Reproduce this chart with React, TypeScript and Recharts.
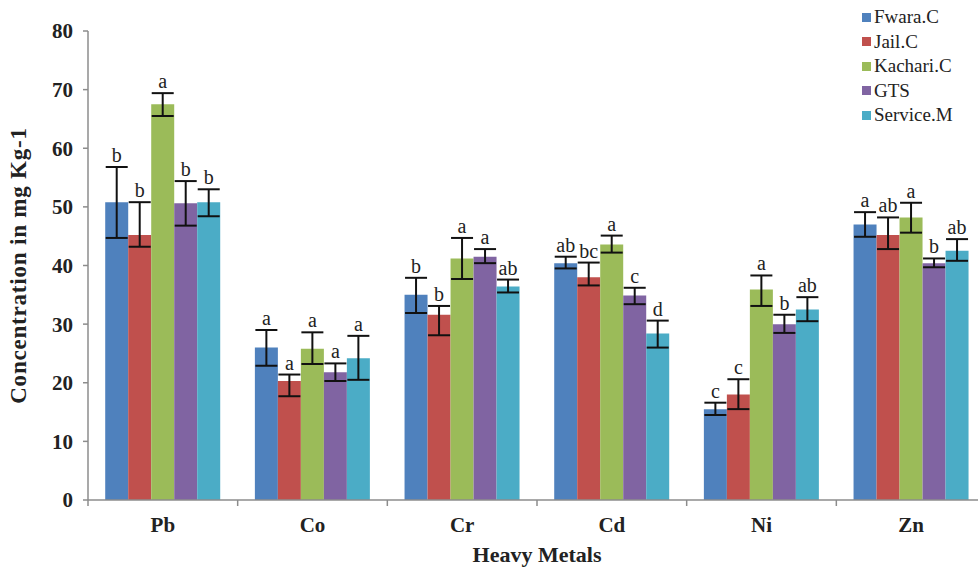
import { BarChart, Bar, XAxis, YAxis, ErrorBar, LabelList, Label } from "recharts";

// heavy metal categories
const metals = ["Pb", "Co", "Cr", "Cd", "Ni", "Zn"];

// mean concentrations (mg/kg) per site
const fwara = [50.8, 26.0, 35.0, 40.4, 15.5, 47.0];
const jail = [45.2, 20.3, 31.6, 38.0, 18.0, 45.2];
const kachari = [67.5, 25.8, 41.2, 43.6, 35.9, 48.2];
const gts = [50.6, 21.8, 41.5, 34.9, 30.0, 40.4];
const service = [50.8, 24.2, 36.4, 28.4, 32.5, 42.5];

// error bars as [down, up]
const fwaraErr = [[6.1, 6.0], [3.1, 3.0], [3.1, 2.9], [0.9, 1.1], [1.0, 1.1], [2.1, 2.1]];
const jailErr = [[2.0, 5.6], [2.6, 1.1], [3.5, 1.5], [1.4, 2.5], [2.5, 2.6], [2.4, 3.0]];
const kachariErr = [[2.0, 1.9], [2.6, 2.8], [3.5, 3.5], [1.4, 1.5], [2.8, 2.4], [2.6, 2.5]];
const gtsErr = [[3.8, 3.8], [1.5, 1.5], [1.1, 1.3], [1.5, 1.3], [1.5, 1.6], [0.7, 0.8]];
const serviceErr = [[2.4, 2.2], [3.7, 3.8], [1.0, 1.2], [2.4, 2.2], [2.0, 2.1], [1.7, 2.0]];

// significance letters
const fwaraSig = ["b", "a", "b", "ab", "c", "a"];
const jailSig = ["b", "a", "b", "bc", "c", "ab"];
const kachariSig = ["a", "a", "a", "a", "a", "a"];
const gtsSig = ["b", "a", "a", "c", "b", "b"];
const serviceSig = ["b", "a", "ab", "d", "ab", "ab"];

const yTicks = [0, 10, 20, 30, 40, 50, 60, 70, 80];

const series = [
  { key: "fwara", name: "Fwara.C", color: "#4F81BD", vals: fwara, err: fwaraErr, sig: fwaraSig },
  { key: "jail", name: "Jail.C", color: "#C0504D", vals: jail, err: jailErr, sig: jailSig },
  { key: "kachari", name: "Kachari.C", color: "#9BBB59", vals: kachari, err: kachariErr, sig: kachariSig },
  { key: "gts", name: "GTS", color: "#8064A2", vals: gts, err: gtsErr, sig: gtsSig },
  { key: "service", name: "Service.M", color: "#4BACC6", vals: service, err: serviceErr, sig: serviceSig },
];

const data = metals.map((m, i) => {
  const row: any = { metal: m };
  series.forEach((s) => {
    row[s.key] = s.vals[i];
    row[s.key + "Err"] = s.err[i];
  });
  return row;
});

const W = 1000;
const H = 569;
const margin = { top: 31, right: 14, left: 28, bottom: 29 };
const yAxisWidth = 60;
const plotW = W - margin.left - margin.right - yAxisWidth;
const halfBand = plotW / metals.length / 2;

const serif = "'Liberation Serif', 'Times New Roman', serif";

const makeSigLabel = (s: any) => (props: any) => {
  const { x, y, width, height, index } = props;
  const v = s.vals[index];
  const ppu = height / v;
  const top = y - s.err[index][1] * ppu;
  return (
    <text
      x={x + width / 2}
      y={top - 5}
      textAnchor="middle"
      fontFamily={serif}
      fontSize={20}
      fill="#222"
    >
      {s.sig[index]}
    </text>
  );
};

const XTick = (props: any) => {
  const { x, y, payload, index } = props;
  const axisY = y - 8;
  return (
    <g>
      <line x1={x - halfBand} x2={x - halfBand} y1={axisY} y2={axisY + 6} stroke="#8c8c8c" strokeWidth={1.5} />
      {index === metals.length - 1 && (
        <line x1={x + halfBand} x2={x + halfBand} y1={axisY} y2={axisY + 6} stroke="#8c8c8c" strokeWidth={1.5} />
      )}
      <text x={x} y={axisY + 32} textAnchor="middle" fontFamily={serif} fontWeight="bold" fontSize={21} fill="#222">
        {payload.value}
      </text>
    </g>
  );
};

const Legend = () => (
  <div style={{ position: "absolute", left: 862, top: 5, fontFamily: serif, fontSize: 19, color: "#222" }}>
    {series.map((s) => (
      <div key={s.key} style={{ display: "flex", alignItems: "center", height: 24.5 }}>
        <span style={{ display: "inline-block", width: 9, height: 9, background: s.color, marginRight: 3 }} />
        <span>{s.name}</span>
      </div>
    ))}
  </div>
);

export default function App() {
  return (
    <div style={{ position: "fixed", left: 0, top: 0, width: 978, height: 569, overflow: "hidden", background: "#fff" }}>
      <BarChart width={W} height={H} data={data} margin={margin} barCategoryGap="11.5%" barGap={0}>
        <XAxis
          dataKey="metal"
          axisLine={{ stroke: "#8c8c8c", strokeWidth: 1.5 }}
          tickLine={false}
          tick={<XTick />}
          height={40}
          interval={0}
        >
          <Label
            value="Heavy Metals"
            position="insideBottom"
            offset={-22}
            style={{ fontFamily: serif, fontWeight: "bold", fontSize: 22, fill: "#222" }}
          />
        </XAxis>
        <YAxis
          domain={[0, 80]}
          ticks={yTicks}
          width={yAxisWidth}
          axisLine={{ stroke: "#8c8c8c", strokeWidth: 1.5 }}
          tickLine={{ stroke: "#8c8c8c", strokeWidth: 1.5 }}
          tickSize={5}
          tickMargin={10}
          tick={{ fontFamily: serif, fontWeight: "bold", fontSize: 21, fill: "#222" }}
        >
          <Label
            value="Concentration in mg Kg-1"
            angle={-90}
            position="insideLeft"
            offset={-10}
            style={{ textAnchor: "middle", fontFamily: serif, fontWeight: "bold", fontSize: 23, letterSpacing: 0.8, fill: "#222" }}
          />
        </YAxis>
        {series.map((s) => (
          <Bar key={s.key} dataKey={s.key} name={s.name} fill={s.color} isAnimationActive={false}>
            <ErrorBar dataKey={s.key + "Err"} width={11} stroke="#111" strokeWidth={2} direction="y" />
            <LabelList dataKey={s.key} content={makeSigLabel(s)} />
          </Bar>
        ))}
      </BarChart>
      <Legend />
    </div>
  );
}
